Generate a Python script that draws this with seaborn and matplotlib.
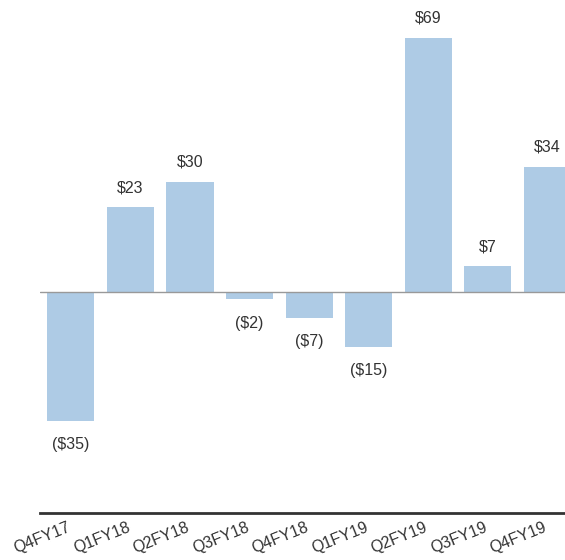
import pandas as pd
import matplotlib
matplotlib.use("Agg")
import matplotlib.pyplot as plt
import matplotlib.transforms as mtrans
import seaborn as sns

# Daten
quarters = ["Q4FY17", "Q1FY18", "Q2FY18", "Q3FY18", "Q4FY18",
            "Q1FY19", "Q2FY19", "Q3FY19", "Q4FY19"]
values = [-35, 23, 30, -2, -7, -15, 69, 7, 34]
labels = ["($35)", "$23", "$30", "($2)", "($7)", "($15)", "$69", "$7", "$34"]

df = pd.DataFrame({"quarter": quarters, "value": values})

sns.set_style("white")
plt.rcParams["font.family"] = ["Liberation Sans", "DejaVu Sans"]

fig = plt.figure(figsize=(5.65, 5.6), dpi=100)
ax = fig.add_axes([0.0708, 0.0839, 0.9292, 0.9161])

sns.barplot(data=df, x="quarter", y="value", color="#aecbe5",
            saturation=1, width=0.79, linewidth=0, edgecolor="none", ax=ax)

ax.axhline(0, color="#999999", lw=1, zorder=3)

for i, (v, lab) in enumerate(zip(values, labels)):
    off = 14 if v >= 0 else -17
    ax.annotate(lab, (i, v), xytext=(0, off), textcoords="offset points",
                ha="center", va="center", fontsize=11.5, color="#333333")

ax.set_xlim(-0.52, 8.3)
ax.set_ylim(-60, 79.3)
ax.set_yticks([])
ax.set_xlabel("")
ax.set_ylabel("")
for s in ["top", "right", "left"]:
    ax.spines[s].set_visible(False)
ax.spines["bottom"].set_color("#333333")
ax.spines["bottom"].set_linewidth(2)
ax.tick_params(axis="x", length=0, pad=5)
shift = mtrans.ScaledTranslation(-4 / 100, 0, fig.dpi_scale_trans)
for t in ax.get_xticklabels():
    t.set_rotation(22)
    t.set_ha("right")
    t.set_rotation_mode("anchor")
    t.set_fontsize(11.5)
    t.set_color("#333333")
    t.set_transform(t.get_transform() + shift)

fig.savefig("out.png", dpi=100)
